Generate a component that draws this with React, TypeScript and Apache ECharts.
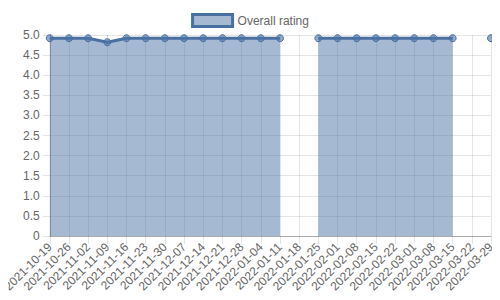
import React, { useEffect, useRef } from "react";
import * as echarts from "echarts";

const categories = [
  "2021-10-19", "2021-10-26", "2021-11-02", "2021-11-09", "2021-11-16", "2021-11-23",
  "2021-11-30", "2021-12-07", "2021-12-14", "2021-12-21", "2021-12-28", "2022-01-04",
  "2022-01-11", "2022-01-18", "2022-01-25", "2022-02-01", "2022-02-08", "2022-02-15",
  "2022-02-22", "2022-03-01", "2022-03-08", "2022-03-15", "2022-03-22", "2022-03-29",
];
const ratings: (number | null)[] = [
  4.92, 4.92, 4.92, 4.82, 4.92, 4.92, 4.92, 4.92, 4.92, 4.92, 4.92, 4.92,
  4.92, null, 4.92, 4.92, 4.92, 4.92, 4.92, 4.92, 4.92, 4.92, null, 4.92,
];
const seriesName = "Overall rating";

const LINE = "#4a70a2";
const FILL = "rgba(75,115,165,0.5)";
const TEXT = "#666";
const FONT = "'Liberation Sans', Arial, sans-serif";

export default function App() {
  const ref = useRef<HTMLDivElement>(null);
  useEffect(() => {
    if (!ref.current) return;
    const chart = echarts.init(ref.current, undefined, { renderer: "svg" });
    chart.setOption({
      animation: false,
      textStyle: { fontFamily: FONT },
      legend: {
        top: 8,
        left: "center",
        icon: "rect",
        itemWidth: 40,
        itemHeight: 12,
        itemGap: 10,
        textStyle: { color: TEXT, fontSize: 12, fontFamily: FONT },
        data: [
          {
            name: seriesName,
            itemStyle: { color: FILL, borderColor: LINE, borderWidth: 3, opacity: 1 },
          },
        ],
      },
      grid: { left: 49, right: 9, top: 35, bottom: 64, containLabel: false },
      xAxis: {
        type: "category",
        data: categories,
        boundaryGap: false,
        axisLine: { show: true, lineStyle: { color: "rgba(0,0,0,0.25)" } },
        axisTick: { show: true, length: 8, interval: 0, lineStyle: { color: "rgba(0,0,0,0.1)" } },
        axisLabel: {
          interval: 0,
          rotate: 45,
          color: TEXT,
          fontSize: 12,
          fontFamily: FONT,
          margin: 9,
        },
        splitLine: { show: true, interval: 0, lineStyle: { color: "rgba(0,0,0,0.1)" } },
      },
      yAxis: {
        type: "value",
        min: 0,
        max: 5,
        interval: 0.5,
        axisLine: { show: true, lineStyle: { color: "rgba(0,0,0,0.25)" } },
        axisTick: { show: true, length: 7, lineStyle: { color: "rgba(0,0,0,0.1)" } },
        axisLabel: {
          color: TEXT,
          fontSize: 12,
          fontFamily: FONT,
          margin: 10,
          formatter: (v: number) => (v === 0 ? "0" : v.toFixed(1)),
        },
        splitLine: { show: true, lineStyle: { color: "rgba(0,0,0,0.1)" } },
      },
      series: [
        {
          name: seriesName,
          type: "line",
          data: ratings,
          connectNulls: false,
          showAllSymbol: true,
          symbol: "circle",
          symbolSize: 7,
          lineStyle: { color: LINE, width: 3 },
          itemStyle: { color: "rgba(75,115,165,0.6)", borderColor: LINE, borderWidth: 1 },
          areaStyle: { color: FILL, origin: "start", opacity: 1 },
        },
      ],
    });
    return () => chart.dispose();
  }, []);
  return <div ref={ref} style={{ width: 500, height: 300, margin: -8 }} />;
}
